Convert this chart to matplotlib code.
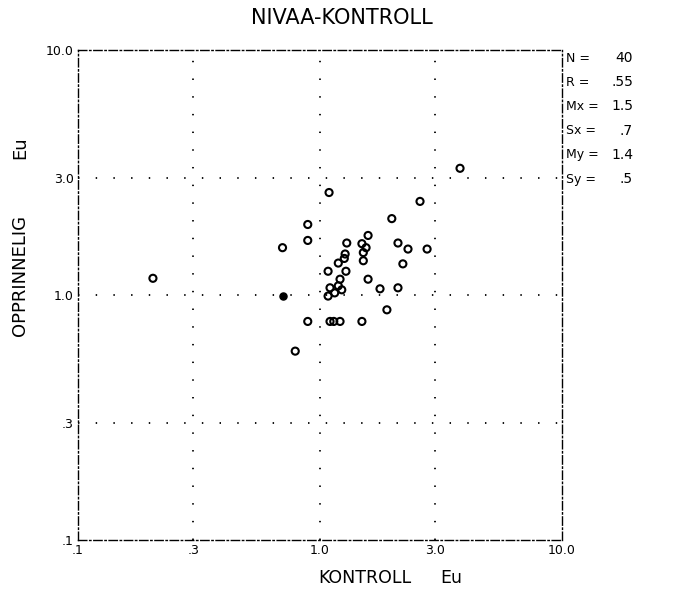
import matplotlib
matplotlib.use("Agg")
import matplotlib.pyplot as plt
from matplotlib.ticker import FixedLocator, NullLocator

# ---- data (log-log scatter) ----
kontroll = [3.79, 1.09, 2.59, 0.89, 1.98, 0.89, 0.70, 1.29, 1.58, 1.49,
            1.51, 1.51, 2.10, 2.31, 2.77, 1.27, 2.20, 1.19, 1.28, 1.08,
            1.21, 1.19, 1.10, 1.23, 1.08, 1.58, 1.77, 2.10, 1.89, 1.10,
            1.21, 1.49, 0.89, 0.79, 0.204, 1.55, 1.15, 1.26, 1.14]
opprinnelig = [3.29, 2.62, 2.41, 1.94, 2.05, 1.67, 1.56, 1.63, 1.75, 1.62,
               1.49, 1.38, 1.63, 1.54, 1.54, 1.47, 1.34, 1.35, 1.25, 1.25,
               1.16, 1.09, 1.07, 1.05, 0.99, 1.16, 1.06, 1.07, 0.87, 0.78,
               0.78, 0.78, 0.78, 0.59, 1.17, 1.56, 1.02, 1.41, 0.78]
filled_x = [0.70]
filled_y = [0.99]

tick_values = [0.1, 0.3, 1.0, 3.0, 10.0]
tick_labels = [".1", ".3", "1.0", "3.0", "10.0"]

stat_names = ["N =", "R =", "Mx =", "Sx =", "My =", "Sy ="]
stat_values = ["40", ".55", "1.5", ".7", "1.4", ".5"]

title = "NIVAA-KONTROLL"

FONT = ['DejaVu Sans']

fig = plt.figure(figsize=(6.82, 5.95), dpi=100)
W, H = 682, 595
ax = fig.add_axes([78 / W, 1 - 540 / H, (562 - 78) / W, (540 - 50) / H])
ax.set_xscale('log')
ax.set_yscale('log')
ax.set_xlim(0.1, 10)
ax.set_ylim(0.1, 10)

# grid: sparse dots
for v in tick_values[1:-1]:
    ax.axvline(v, color='black', lw=1.3, ls=(0, (0.8, 9)), zorder=1)
    ax.axhline(v, color='black', lw=1.3, ls=(0, (0.8, 9)), zorder=1)

ax.scatter(kontroll, opprinnelig, s=26, facecolors='none', edgecolors='black',
           linewidths=1.5, zorder=3)
ax.scatter(filled_x, filled_y, s=26, color='black', zorder=3)

for sp in ax.spines.values():
    sp.set_linestyle((0, (6, 2, 1, 2)))
    sp.set_linewidth(1.0)
    sp.set_color('black')

ax.xaxis.set_major_locator(FixedLocator(tick_values))
ax.yaxis.set_major_locator(FixedLocator(tick_values))
ax.xaxis.set_minor_locator(NullLocator())
ax.yaxis.set_minor_locator(NullLocator())
ax.set_xticklabels(tick_labels, family=FONT, fontsize=9)
ax.set_yticklabels(tick_labels, family=FONT, fontsize=9)
ax.tick_params(length=0, pad=3)

fig.text(342 / W, 1 - 18 / H, title, ha='center', va='center',
         family=FONT, fontsize=15, color='black')
fig.text(318 / W, 1 - 578 / H, "KONTROLL", ha='left', va='center',
         family=FONT, fontsize=12.5)
fig.text(440 / W, 1 - 578 / H, "Eu", ha='left', va='center',
         family=FONT, fontsize=12.5)
fig.text(20 / W, 1 - 275 / H, "OPPRINNELIG", ha='center', va='center',
         rotation=90, family=FONT, fontsize=13)
fig.text(20 / W, 1 - 148 / H, "Eu", ha='center', va='center',
         rotation=90, family=FONT, fontsize=13)

for i, (n, v) in enumerate(zip(stat_names, stat_values)):
    y = 1 - (58 + 24.2 * i) / H
    fig.text(566 / W, y, n, ha='left', va='center', family=FONT, fontsize=9)
    fig.text(633 / W, y, v, ha='right', va='center', family=FONT, fontsize=10)

fig.savefig("out.png", dpi=100)
